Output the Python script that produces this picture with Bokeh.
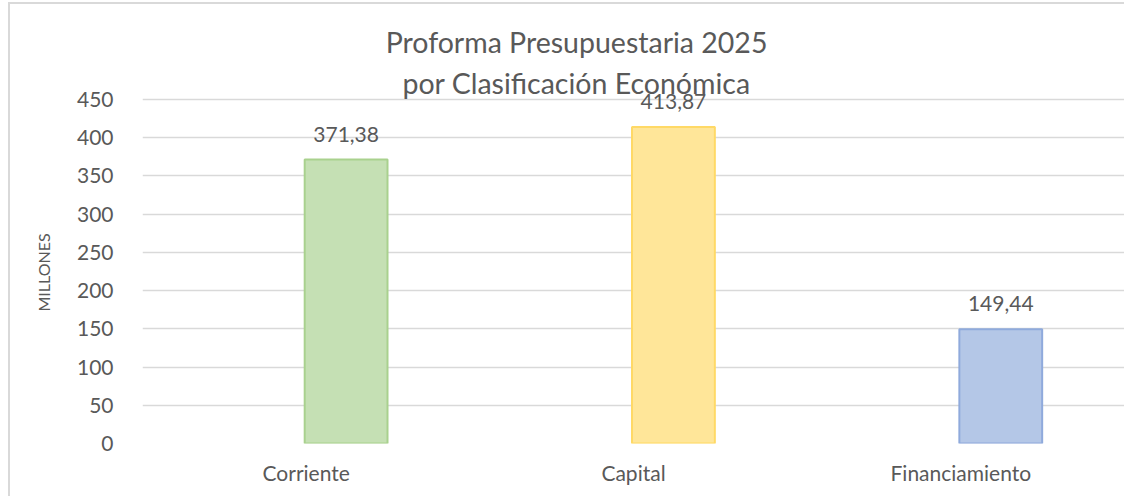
from bokeh.plotting import figure
from bokeh.models import Range1d, FactorRange, FixedTicker, Title, Label, ColumnDataSource
from bokeh.transform import dodge
from bokeh.core.properties import value
from bokeh.embed import file_html
from bokeh.resources import INLINE

categories = ["Corriente", "Capital", "Financiamiento"]
values = [371.38, 413.87, 149.44]
value_labels = ["371,38", "413,87", "149,44"]
fill_colors = ["#C5E0B4", "#FFE699", "#B4C7E7"]
line_colors = ["#A9D18E", "#FFD966", "#8FAADC"]
y_ticks = [0, 50, 100, 150, 200, 250, 300, 350, 400, 450]
title_lines = ["Proforma Presupuestaria 2025", "por Clasificación Económica"]
y_label = "MILLONES"

FONT = "Lato"
TXT = "#595959"

src = ColumnDataSource(dict(cat=categories, val=values, lab=value_labels,
                            fill=fill_colors, line=line_colors))

# the frame reaches up to the top of the chart box so the title lines can live inside it
p = figure(width=1116, height=494, output_backend="svg", toolbar_location=None,
           x_range=FactorRange(*categories, range_padding=0),
           y_range=Range1d(0, 569.04),
           min_border_left=132, min_border_right=2, min_border_top=4, min_border_bottom=55)
p.styles = {"border-left": "2px solid #D9D9D9", "border-top": "2px solid #D9D9D9",
            "position": "relative", "left": "8px", "top": "2px"}

p.vbar(x=dodge("cat", 0.122, range=p.x_range), top="val", width=0.253, source=src,
       fill_color="fill", line_color="line", line_width=2)

p.text(x=dodge("cat", 0.122, range=p.x_range), y="val", text="lab", source=src,
       text_align="center", text_baseline="bottom", y_offset=-18,
       text_font=value(FONT), text_font_size="21px", text_color=TXT)

p.outline_line_color = None
p.xgrid.grid_line_color = None
p.ygrid.grid_line_color = "#D9D9D9"
p.ygrid.grid_line_width = 1.5
p.yaxis.ticker = FixedTicker(ticks=y_ticks)

for ax in (p.xaxis, p.yaxis):
    ax.axis_line_color = None
    ax.major_tick_line_color = None
    ax.minor_tick_line_color = None
    ax.major_label_text_font = FONT
    ax.major_label_text_font_size = "21px"
    ax.major_label_text_color = TXT

p.yaxis.major_label_standoff = 23
p.xaxis.major_label_standoff = 10

# y axis title, centred on the 0-450 part of the frame
p.add_layout(Title(text=y_label, align="left", offset=132, standoff=42,
                   text_font=FONT, text_font_size="16px", text_font_style="normal",
                   text_color=TXT), "left")

# chart title, two centred lines
p.add_layout(Label(x=1.326, y=524.6, text=title_lines[0], text_align="center",
                   text_baseline="alphabetic", text_font=FONT, text_font_size="28.5px",
                   text_color=TXT))
p.add_layout(Label(x=1.326, y=472.2, text=title_lines[1], text_align="center",
                   text_baseline="alphabetic", text_font=FONT, text_font_size="28.5px",
                   text_color=TXT))

open("out.html", "w").write(file_html(p, INLINE))
